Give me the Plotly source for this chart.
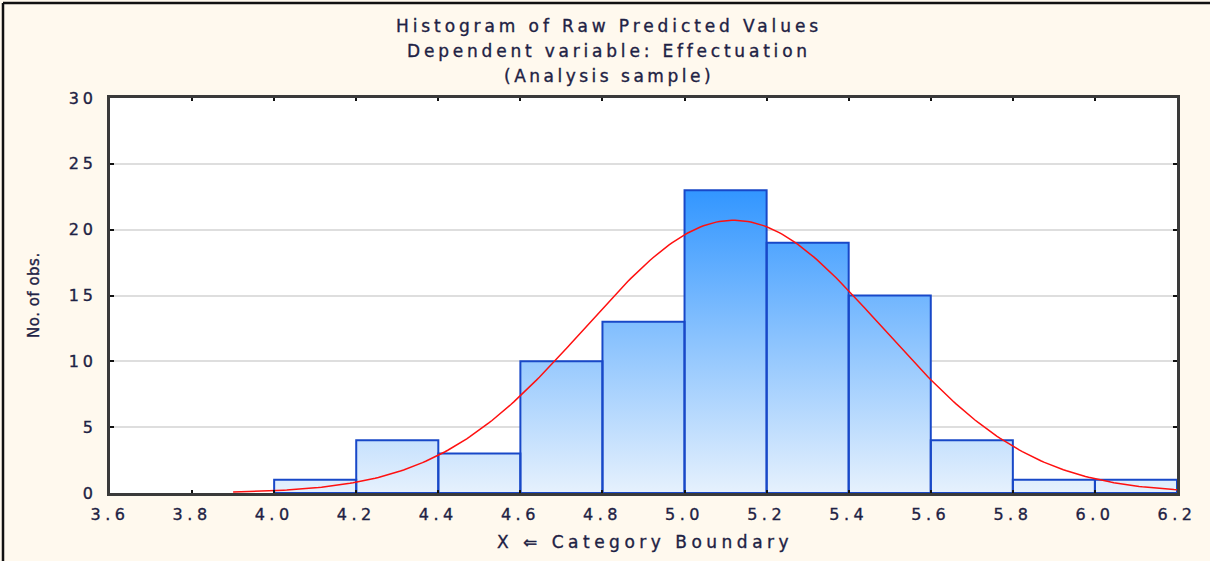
import math
import plotly.graph_objects as go

# Histogram of raw predicted values (category boundaries of width 0.2)
bin_edges = [4.0, 4.2, 4.4, 4.6, 4.8, 5.0, 5.2, 5.4, 5.6, 5.8, 6.0, 6.2]
bin_counts = [1, 4, 3, 10, 13, 23, 19, 15, 4, 1, 1]

# Fitted normal curve parameters
normal_mean = 5.12
normal_sd = 0.362
curve_start = 3.9
curve_end = 6.2

x_tick_values = [3.6, 3.8, 4.0, 4.2, 4.4, 4.6, 4.8, 5.0, 5.2, 5.4, 5.6, 5.8, 6.0, 6.2]
x_tick_labels = ["3.6", "3.8", "4.0", "4.2", "4.4", "4.6", "4.8", "5.0", "5.2", "5.4", "5.6", "5.8", "6.0", "6.2"]
y_tick_values = [0, 5, 10, 15, 20, 25, 30]
y_tick_labels = ["0", "5", "10", "15", "20", "25", "30"]

title_lines = ["Histogram of Raw Predicted Values",
               "Dependent variable: Effectuation",
               "(Analysis sample)"]
x_title = "X \u21d0 Category Boundary"
y_title = "No. of obs."

TEXT_COLOR = "#1E2244"
FONT = "DejaVu Sans"


def spaced(s, sp):
    # wide, slightly heavier lettering
    return (f"<span style='letter-spacing:{sp}px;stroke:{TEXT_COLOR};"
            f"stroke-width:0.35px'>{s}</span>")


# Closed outlines for each bar, separated by gaps
bar_x, bar_y = [], []
for left, right, c in zip(bin_edges[:-1], bin_edges[1:], bin_counts):
    bar_x += [left, left, right, right, left, None]
    bar_y += [0, c, c, 0, 0, None]

# Expected counts from the normal fit
total = sum(bin_counts)
width = bin_edges[1] - bin_edges[0]
n_pts = 300
curve_x = [curve_start + (curve_end - curve_start) * i / (n_pts - 1) for i in range(n_pts)]
curve_y = [total * width * math.exp(-0.5 * ((v - normal_mean) / normal_sd) ** 2)
           / (normal_sd * math.sqrt(2 * math.pi)) for v in curve_x]

fig = go.Figure()
fig.add_trace(go.Scatter(
    x=bar_x, y=bar_y, mode="lines", fill="toself",
    line=dict(color="#1848C8", width=2),
    fillgradient=dict(type="vertical",
                      colorscale=[[0, "rgb(230,241,253)"], [1, "rgb(50,150,255)"]],
                      start=0, stop=max(bin_counts)),
    hoverinfo="skip", showlegend=False,
))
fig.add_trace(go.Scatter(
    x=curve_x, y=curve_y, mode="lines",
    line=dict(color="#FF1010", width=1.5),
    hoverinfo="skip", showlegend=False,
))

L, R, T, B = 110, 33, 98, 68
W, H = 1210, 561
pw, ph = W - L - R, H - T - B


def px_to_paper_x(px):
    return (px - L) / pw


def px_to_paper_y(py):
    return 1 - (py - T) / ph


annotations = []
for line, py, sp in zip(title_lines, [26, 51, 76], [3.9, 3.8, 3.5]):
    annotations.append(dict(
        text=spaced(line, sp), xref="paper", yref="paper",
        x=px_to_paper_x(609), y=px_to_paper_y(py),
        xanchor="center", yanchor="middle", showarrow=False,
        font=dict(family=FONT, size=17, color=TEXT_COLOR)))
annotations.append(dict(
    text=spaced(x_title, 4.5), xref="paper", yref="paper",
    x=px_to_paper_x(645), y=px_to_paper_y(542),
    xanchor="center", yanchor="middle", showarrow=False,
    font=dict(family=FONT, size=17, color=TEXT_COLOR)))
annotations.append(dict(
    text=spaced(y_title, 0.5), xref="paper", yref="paper",
    x=px_to_paper_x(34), y=px_to_paper_y(295), textangle=-90,
    xanchor="center", yanchor="middle", showarrow=False,
    font=dict(family=FONT, size=15, color=TEXT_COLOR)))

# Outer frame (top and left edges)
shapes = [
    dict(type="line", xref="paper", yref="paper",
         x0=px_to_paper_x(3), x1=px_to_paper_x(1215), y0=px_to_paper_y(3), y1=px_to_paper_y(3),
         line=dict(color="#111111", width=2.5)),
    dict(type="line", xref="paper", yref="paper",
         x0=px_to_paper_x(3), x1=px_to_paper_x(3), y0=px_to_paper_y(3), y1=px_to_paper_y(570),
         line=dict(color="#111111", width=2.5)),
]

axis_common = dict(
    showline=True, linecolor="#3A3A3A", linewidth=2.5, mirror="ticks",
    ticks="inside", tickcolor="#111111", tickwidth=2,
    tickfont=dict(family=FONT, size=16, color=TEXT_COLOR),
    zeroline=False, fixedrange=True,
)

fig.update_layout(
    width=W, height=H, autosize=False,
    margin=dict(l=L, r=R, t=T, b=B),
    paper_bgcolor="#FFF9EE", plot_bgcolor="#FFFFFF",
    xaxis=dict(range=[3.6, 6.2], tickmode="array", tickvals=x_tick_values,
               ticktext=[spaced(t, 4.5) for t in x_tick_labels], ticklen=3,
               ticklabelstandoff=5, showgrid=False, **axis_common),
    yaxis=dict(range=[0, 30], tickmode="array", tickvals=y_tick_values,
               ticktext=[spaced(t, 4) for t in y_tick_labels], ticklen=4,
               ticklabelstandoff=7, showgrid=True, gridcolor="#DEDEDE", gridwidth=1.5,
               **axis_common),
    annotations=annotations, shapes=shapes,
)

fig.write_html("out.html", config={"displayModeBar": False})
